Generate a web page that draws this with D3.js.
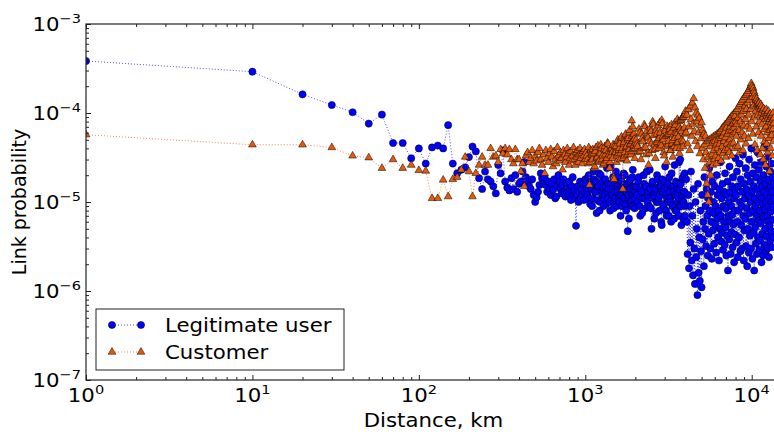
<!DOCTYPE html>
<html>
<head>
<meta charset="utf-8">
<script src="https://cdn.jsdelivr.net/npm/d3@7"></script>
<style>
  body { margin: 0; background: #fff; }
  svg { display: block; }
  text { font-family: "DejaVu Sans", sans-serif; fill: #000; }
</style>
</head>
<body>
<svg id="chart" width="774" height="432"></svg>
<script>
// distance bins (km), shared by both series
const distanceKm = [
  1, 10, 20, 30, 40, 50, 60, 70, 80, 90,
  100, 110, 120, 130, 140, 150, 160, 170, 180, 190,
  200, 210, 220, 230, 240, 250, 260, 270, 280, 290,
  300, 310, 320, 330, 340, 350, 360, 370, 380, 390,
  400, 410, 420, 430, 440, 450, 460, 470, 480, 490,
  500, 510, 520, 530, 540, 550, 560, 570, 580, 590,
  600, 610, 620, 630, 640, 650, 660, 670, 680, 690,
  700, 710, 720, 730, 740, 750, 760, 770, 780, 790,
  800, 810, 820, 830, 840, 850, 860, 870, 880, 890,
  900, 910, 920, 930, 940, 950, 960, 970, 980, 990,
  1000,
  1020, 1040, 1060, 1080, 1100, 1120, 1140, 1160, 1180, 1200,
  1220, 1240, 1260, 1280, 1300, 1320, 1340, 1360, 1380, 1400,
  1420, 1440, 1460, 1480, 1500, 1520, 1540, 1560, 1580, 1600,
  1620, 1640, 1660, 1680, 1700, 1720, 1740, 1760, 1780, 1800,
  1820, 1840, 1860, 1880, 1900, 1920, 1940, 1960, 1980, 2000,
  2040, 2080, 2120, 2160, 2200, 2240, 2280, 2320, 2360, 2400,
  2440, 2480, 2520, 2560, 2600, 2640, 2680, 2720, 2760, 2800,
  2840, 2880, 2920, 2960, 3000, 3040, 3080, 3120, 3160, 3200,
  3240, 3280, 3320, 3360, 3400, 3440, 3480, 3520, 3560, 3600,
  3640, 3680, 3720, 3760, 3800, 3840, 3880, 3920, 3960, 4000,
  4040, 4080, 4120, 4160, 4200, 4240, 4280, 4320, 4360, 4400,
  4440, 4480, 4520, 4560, 4600, 4640, 4680, 4720, 4760, 4800,
  4840, 4880, 4920, 4960, 5000, 5040, 5080, 5120, 5160, 5200,
  5240, 5280, 5320, 5360, 5400, 5440, 5480, 5520, 5560, 5600,
  5640, 5680, 5720, 5760, 5800, 5840, 5880, 5920, 5960, 6000,
  6040, 6080, 6120, 6160, 6200, 6240, 6280, 6320, 6360, 6400,
  6440, 6480, 6520, 6560, 6600, 6640, 6680, 6720, 6760, 6800,
  6840, 6880, 6920, 6960, 7000, 7040, 7080, 7120, 7160, 7200,
  7240, 7280, 7320, 7360, 7400, 7440, 7480, 7520, 7560, 7600,
  7640, 7680, 7720, 7760, 7800, 7840, 7880, 7920, 7960, 8000,
  8050, 8100, 8150, 8200, 8250, 8300, 8350, 8400, 8450, 8500,
  8550, 8600, 8650, 8700, 8750, 8800, 8850, 8900, 8950, 9000,
  9050, 9100, 9150, 9200, 9250, 9300, 9350, 9400, 9450, 9500,
  9550, 9600, 9650, 9700, 9750, 9800, 9850, 9900, 9950, 10000,
  10050, 10100, 10150, 10200, 10250, 10300, 10350, 10400, 10450, 10500,
  10550, 10600, 10650, 10700, 10750, 10800, 10850, 10900, 10950, 11000,
  11050, 11100, 11150, 11200, 11250, 11300, 11350, 11400, 11450, 11500,
  11550, 11600, 11650, 11700, 11750, 11800, 11850, 11900, 11950, 12000,
  12050, 12100, 12150, 12200, 12250, 12300, 12350, 12400, 12450, 12500,
  12550, 12600, 12650, 12700, 12750, 12800, 12850, 12900, 12950, 13000,
  13050, 13100, 13150, 13200, 13250, 13300, 13350, 13400, 13450, 13500,
  13550, 13600
];

// link probability, in units of 1e-6
const probUnit = 1e-6;

const legitProb = [
  384, 291, 162, 123, 102, 76, 96, 46, 46, 31,
  40, 27, 41, 43, 40, 73, 27, 21, 23, 24.5,
  32, 42, 37, 18.5, 14, 22, 18, 17, 15, 12.5,
  26, 21, 38, 17, 14.5, 13.5, 18.5, 14, 20, 13,
  16, 17, 22, 28, 19, 17, 15, 14, 18, 12,
  10, 11.3, 13, 15.5, 21, 18.4, 16, 19, 15.5, 13,
  17, 14, 12, 16, 13.7, 18, 11, 11.5, 15, 20,
  17, 14, 12.5, 15.5, 18, 13, 11.5, 16, 13, 12,
  17, 14, 10.5, 15, 19, 12, 13.5, 11, 5.4, 12,
  15, 10, 13, 17, 11, 14, 12, 16, 10.5, 13,
  18,
  14, 19, 11, 16, 9, 22, 13, 17, 10.5, 15,
  8, 20, 12, 14.5, 11, 18, 9.5, 13, 16, 10,
  25, 12, 14, 8.5, 17, 11, 15, 13, 19, 10,
  12, 16, 9, 14, 21, 11, 13, 8, 15, 4.7,
  12, 17, 10, 14, 9, 19, 12, 15, 8.5, 13,
  12, 17, 9, 14, 7.5, 20, 11, 15, 10, 13,
  23, 8.5, 16, 12, 6.5, 14, 10, 18, 11, 8,
  15, 5.5, 13, 9, 17, 12, 7, 14, 10, 19,
  11, 6, 15, 9, 13, 26, 8, 12, 16, 10,
  7, 14, 30, 9, 11, 18, 6.5, 13, 21, 9,
  18, 6, 2.6, 12, 1.8, 9, 3.5, 22, 2.2, 7,
  1.5, 14, 3, 1.2, 10, 2.4, 5, 0.9, 16, 1.6,
  4, 1.3, 8, 2.8, 1.1, 12, 3.8, 6, 1.9, 19,
  5, 9, 3.2, 14, 7, 2.5, 11, 4.4, 24, 8,
  3, 13, 6, 2.3, 17, 4.8, 10, 7.5, 3.4, 15,
  5.5, 9, 2.7, 20, 6.5, 12, 4, 8, 2.2, 14,
  5, 28, 7, 3.6, 11, 4.5, 16, 2.9, 9, 6,
  13, 3.3, 21, 5.2, 8.5, 2.5, 12, 4.2, 17, 1.7,
  7, 10, 3.8, 25, 6, 13, 2.6, 9, 4.6, 15,
  7.2, 3.1, 19, 5.6, 11, 2.1, 8, 14, 4.3, 31,
  12, 3.5, 22, 6, 2.4, 15, 8, 4, 27, 10,
  2.8, 18, 5.5, 9, 3, 13, 34, 7, 2.2, 16,
  4.8, 11, 6.5, 24, 3.2, 14, 8.5, 1.9, 20, 5,
  12, 2.7, 30, 7.5, 4.2, 17, 10, 3, 40, 6,
  13, 2.3, 21, 8, 4.5, 15, 1.7, 11, 26, 5.2,
  9, 3.4, 19, 7, 2.6, 14, 36, 4, 10, 6.2,
  23, 2.9, 12, 8, 3.7, 17, 5.8, 28, 2.1, 11,
  15, 4.4, 9.5, 2.5, 20, 6.8, 13, 3.3, 42, 8.2,
  5, 16, 2.8, 10, 25, 4.1, 12, 7, 3, 18,
  6, 32, 9, 2.4, 14, 5.4, 11, 3.6, 22, 7.8,
  15, 4.7, 10, 27, 3.1, 13, 6.3, 19, 8.8, 4,
  16, 11
];

const customerProb = [
  57, 44, 44, 41, 33, 31.5, 24, 30, 24, 26,
  22.7, 22.3, 11, 11, 17.7, 11.5, 18, 19, 23, 32,
  22, 11.5, 21, 26, 32, 26, 26, 40, 32, 33,
  28, 39, 35, 40, 34, 39, 30, 27, 39, 30,
  30, 22, 27, 15, 33, 36, 28, 31, 38, 27,
  33, 29, 36, 40, 30, 26, 34, 21, 38, 31,
  28, 35, 39, 32, 25, 37, 30, 27, 41, 33,
  29, 36, 31, 23, 38, 34, 28, 32, 40, 35,
  26, 31, 37, 29, 33, 41, 30, 26, 36, 32,
  38, 28, 34, 40, 31, 35, 27, 37, 33, 39,
  30,
  33, 27, 15.5, 38, 30, 35, 25, 41, 32, 28,
  36, 44, 30, 26, 39, 34, 29, 46, 37, 24,
  33, 40, 31, 19, 43, 36, 28, 48, 35, 40,
  30, 52, 38, 14, 45, 33, 56, 41, 29, 50,
  36, 60, 44, 34, 82, 48, 39, 58, 31, 46,
  45, 36, 60, 30, 52, 40, 70, 34, 55, 26,
  48, 62, 38, 75, 44, 31, 58, 50, 40, 78,
  46, 83, 54, 36, 66, 42, 28, 57, 48, 70,
  38, 61, 45, 32, 68, 52, 73, 40, 59, 47,
  80, 35, 65, 84, 50, 90, 42, 95, 58, 105,
  60, 95, 45, 110, 70, 38, 120, 85, 55, 130,
  75, 146, 62, 115, 48, 100, 80, 42, 95, 60,
  88, 35, 72, 52, 78, 40, 64, 30, 58, 44,
  24, 55, 36, 16, 48, 12, 32, 10, 50, 28,
  42, 20, 52, 34, 46, 26, 54, 38, 30, 48,
  56, 33, 44, 27, 58, 40, 50, 31, 60, 45,
  36, 62, 52, 29, 66, 42, 55, 35, 70, 48,
  60, 38, 74, 53, 32, 68, 45, 78, 58, 40,
  82, 62, 36, 86, 50, 70, 44, 90, 64, 33,
  94, 57, 76, 46, 98, 68, 40, 92, 60, 80,
  105, 55, 75, 110, 42, 88, 118, 64, 36, 125,
  80, 50, 132, 95, 60, 140, 38, 105, 72, 150,
  55, 120, 85, 158, 45, 110, 165, 70, 130, 175,
  52, 95, 185, 140, 66, 195, 110, 205, 215, 80,
  200, 150, 58, 190, 120, 175, 90, 165, 44, 150,
  105, 140, 70, 145, 125, 38, 135, 95, 128, 60,
  115, 130, 80, 120, 34, 110, 125, 55, 100, 118,
  75, 40, 108, 90, 30, 112, 65, 98, 48, 104,
  85, 26, 96, 70, 110, 45, 92, 60, 100, 36,
  88, 105, 52, 80, 95, 22, 85, 64, 98, 40,
  78, 90, 56, 72, 94, 33, 84, 66, 100, 48,
  76, 88
];

// in-between bins of the crowded 1000-4000 km stretch
const extraDistanceKm = [
  1010, 1030, 1050, 1070, 1090, 1110, 1130, 1150, 1170, 1190,
  1210, 1230, 1250, 1270, 1290, 1310, 1330, 1350, 1370, 1390,
  1410, 1430, 1450, 1470, 1490, 1510, 1530, 1550, 1570, 1590,
  1610, 1630, 1650, 1670, 1690, 1710, 1730, 1750, 1770, 1790,
  1810, 1830, 1850, 1870, 1890, 1910, 1930, 1950, 1970, 1990,
  2020, 2060, 2100, 2140, 2180, 2220, 2260, 2300, 2340, 2380,
  2420, 2460, 2500, 2540, 2580, 2620, 2660, 2700, 2740, 2780,
  2820, 2860, 2900, 2940, 2980, 3020, 3060, 3100, 3140, 3180,
  3220, 3260, 3300, 3340, 3380, 3420, 3460, 3500, 3540, 3580,
  3620, 3660, 3700, 3740, 3780, 3820, 3860, 3900, 3940, 3980
];
const extraLegitProb = [
  16, 12, 20, 9.5, 14, 11, 18, 13, 7.5, 15,
  21, 10, 13.5, 17, 9, 12, 15, 24, 11, 14,
  8, 16, 12.5, 19, 10, 13, 22, 9, 15, 11,
  14, 7, 17, 12, 10, 15.5, 20, 9.5, 13, 16,
  11, 6.5, 14, 18, 10, 12, 23, 9, 14.5, 11,
  15, 10, 19, 7, 13, 11, 16, 8.5, 22, 12,
  9, 14, 5, 17, 11, 13, 7.5, 20, 10, 15,
  12, 6, 18, 9.5, 14, 25, 8, 11, 16, 7,
  13, 10, 21, 9, 15, 6.5, 12, 17, 8, 14,
  11, 28, 9, 16, 5.5, 12, 19, 10, 13, 7
];
const extraCustomerProb = [
  36, 30, 41, 28, 34, 39, 24, 37, 31, 43,
  29, 35, 40, 33, 27, 42, 38, 31, 45, 34,
  28, 39, 36, 44, 18, 37, 42, 33, 50, 38,
  45, 35, 54, 40, 31, 47, 36, 58, 42, 34,
  52, 39, 64, 45, 37, 55, 70, 43, 51, 40,
  50, 42, 66, 37, 58, 48, 74, 41, 62, 53,
  35, 68, 45, 80, 56, 39, 64, 47, 72, 52,
  60, 43, 76, 50, 33, 63, 55, 71, 44, 58,
  66, 38, 74, 49, 57, 42, 78, 60, 46, 85,
  54, 70, 40, 82, 62, 88, 48, 90, 68, 98
];

const seriesNames = ["Legitimate user", "Customer"];
const xTickValues = [1, 10, 100, 1000, 10000];
const xTickExp = ["0", "1", "2", "3", "4"];
const yTickValues = [1e-7, 1e-6, 1e-5, 1e-4, 1e-3];
const yTickExp = ["\u22127", "\u22126", "\u22125", "\u22124", "\u22123"];

const blue = "#0000ff";
const orange = "#e35a0c";

const plotLeft = 86, plotRight = 781, plotTop = 24, plotBottom = 380;
const textStretch = 1.12; // horizontal texts in the picture are a little wide
const svg = d3.select("#chart");

const x = d3.scaleLog().domain([1, 15000]).range([plotLeft, plotRight]);
const y = d3.scaleLog().domain([1e-7, 1e-3]).range([plotBottom, plotTop]);

svg.append("defs").append("clipPath").attr("id", "plotClip")
  .append("rect").attr("x", plotLeft).attr("y", plotTop)
  .attr("width", plotRight - plotLeft).attr("height", plotBottom - plotTop);

function buildSeries(mainProb, extraProb) {
  const pts = distanceKm.map((d, i) => [d, mainProb[i] * probUnit])
    .concat(extraDistanceKm.map((d, i) => [d, extraProb[i] * probUnit]));
  return pts.sort((a, b) => a[0] - b[0]);
}
const legitData = buildSeries(legitProb, extraLegitProb);
const customerData = buildSeries(customerProb, extraCustomerProb);

const plot = svg.append("g").attr("clip-path", "url(#plotClip)");
const line = d3.line().x(d => x(d[0])).y(d => y(d[1]));
const tri = d3.symbol(d3.symbolTriangle, 26);

// legitimate users first, customers drawn on top
plot.append("path").datum(legitData).attr("d", line)
  .attr("fill", "none").attr("stroke", blue).attr("stroke-width", 1)
  .attr("stroke-dasharray", "1,2").attr("opacity", 0.7);
plot.append("g").selectAll("circle").data(legitData).enter().append("circle")
  .attr("cx", d => x(d[0])).attr("cy", d => y(d[1])).attr("r", 3.6)
  .attr("fill", blue).attr("stroke", "#000").attr("stroke-width", 0.5);

plot.append("path").datum(customerData).attr("d", line)
  .attr("fill", "none").attr("stroke", orange).attr("stroke-width", 1)
  .attr("stroke-dasharray", "1,2").attr("opacity", 0.7);
plot.append("g").selectAll("path").data(customerData).enter().append("path")
  .attr("d", tri).attr("transform", d => `translate(${x(d[0])},${y(d[1])})`)
  .attr("fill", orange).attr("stroke", "#000").attr("stroke-width", 0.5);

// ticks (inside, on all sides)
const isMajor = v => Math.abs(Math.log10(v) - Math.round(Math.log10(v))) < 1e-9;
const xMinor = x.ticks().filter(v => !isMajor(v));
const yMinor = y.ticks().filter(v => !isMajor(v));

function tickAxis(axis, values, size, tx, ty) {
  const g = svg.append("g").attr("transform", `translate(${tx},${ty})`)
    .call(axis.tickValues(values).tickSize(size).tickFormat(""));
  g.select(".domain").remove();
  g.selectAll("line").attr("stroke", "#222");
}
tickAxis(d3.axisBottom(x), xTickValues, -5, 0, plotBottom);
tickAxis(d3.axisBottom(x), xMinor, -3, 0, plotBottom);
tickAxis(d3.axisTop(x), xTickValues, -5, 0, plotTop);
tickAxis(d3.axisTop(x), xMinor, -3, 0, plotTop);
tickAxis(d3.axisLeft(y), yTickValues, -5, plotLeft, 0);
tickAxis(d3.axisLeft(y), yMinor, -3, plotLeft, 0);
tickAxis(d3.axisRight(y), yTickValues, -5, plotRight, 0);
tickAxis(d3.axisRight(y), yMinor, -3, plotRight, 0);

// frame
svg.append("rect").attr("x", plotLeft).attr("y", plotTop)
  .attr("width", plotRight - plotLeft).attr("height", plotBottom - plotTop)
  .attr("fill", "none").attr("stroke", "#222").attr("stroke-width", 1.2);

// horizontal text, widened about its anchor point
function wideText(px, py, anchor) {
  return svg.append("text")
    .attr("transform", `translate(${px},${py}) scale(${textStretch},1)`)
    .attr("text-anchor", anchor);
}

// tick labels as 10^n
xTickValues.forEach((v, i) => {
  const t = wideText(x(v), 402, "middle");
  t.append("tspan").attr("font-size", 19).text("10");
  t.append("tspan").attr("font-size", 13).attr("dy", -8).text(xTickExp[i]);
});
yTickValues.forEach((v, i) => {
  const t = wideText(81, y(v) + 7, "end");
  t.append("tspan").attr("font-size", 19).text("10");
  t.append("tspan").attr("font-size", 13).attr("dy", -8).text(yTickExp[i]);
});

// axis titles
wideText((plotLeft + plotRight) / 2, 426.5, "middle").attr("font-size", 19).text("Distance, km");
svg.append("text").attr("transform", `translate(26,${(plotTop + plotBottom) / 2}) rotate(-90)`)
  .attr("text-anchor", "middle").attr("font-size", 19).text("Link probability");

// legend
const legend = svg.append("g");
legend.append("rect").attr("x", 96).attr("y", 309).attr("width", 248).attr("height", 61)
  .attr("fill", "#fff").attr("stroke", "#222").attr("stroke-width", 1);
const legendRows = [325, 352];
seriesNames.forEach((name, i) => {
  const ly = legendRows[i];
  const col = i === 0 ? blue : orange;
  legend.append("line").attr("x1", 112).attr("x2", 141).attr("y1", ly).attr("y2", ly)
    .attr("stroke", col).attr("stroke-dasharray", "1,2").attr("opacity", 0.7);
  [112, 141].forEach(mx => {
    if (i === 0) {
      legend.append("circle").attr("cx", mx).attr("cy", ly).attr("r", 3.6)
        .attr("fill", blue).attr("stroke", "#000").attr("stroke-width", 0.5);
    } else {
      legend.append("path").attr("d", tri).attr("transform", `translate(${mx},${ly})`)
        .attr("fill", orange).attr("stroke", "#000").attr("stroke-width", 0.5);
    }
  });
  legend.append("text").attr("transform", `translate(165,${ly + 7}) scale(${textStretch},1)`)
    .attr("font-size", 19).text(name);
});
</script>
</body>
</html>
